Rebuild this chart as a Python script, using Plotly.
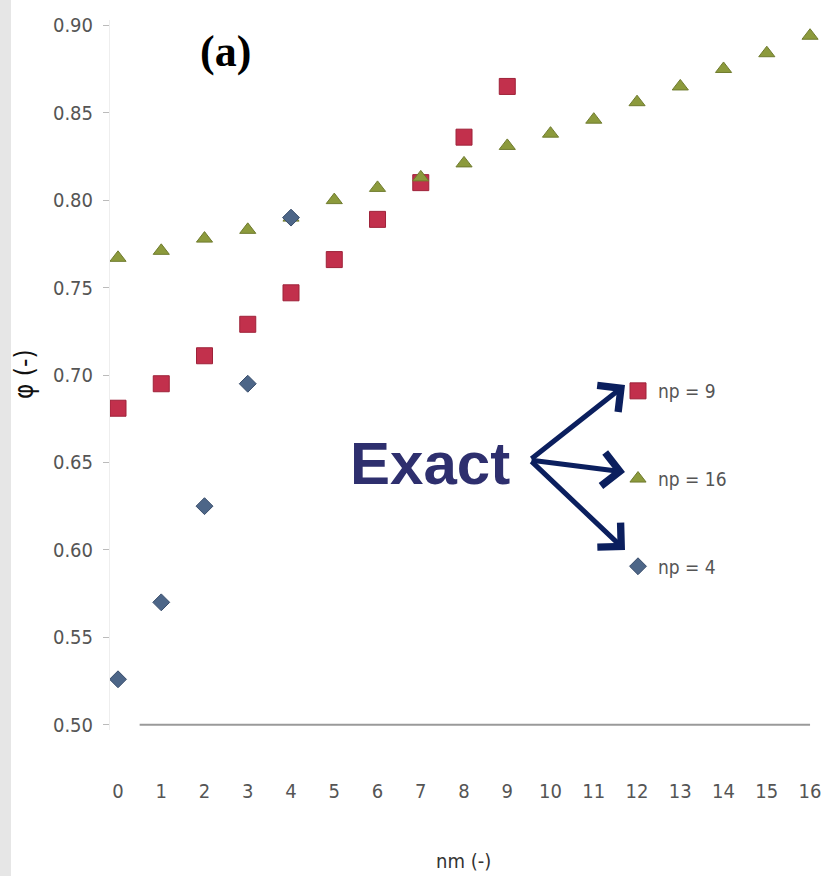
import plotly.graph_objects as go

# Data: φ versus nm for three values of np
nm_np4 = [0, 1, 2, 3, 4]
phi_np4 = [0.526, 0.570, 0.625, 0.695, 0.790]

nm_np9 = [0, 1, 2, 3, 4, 5, 6, 7, 8, 9]
phi_np9 = [0.681, 0.695, 0.711, 0.729, 0.747, 0.766, 0.789, 0.810, 0.836, 0.865]

nm_np16 = list(range(17))
phi_np16 = [0.767, 0.771, 0.778, 0.783, 0.790, 0.800, 0.807, 0.813, 0.821,
            0.831, 0.838, 0.846, 0.856, 0.865, 0.875, 0.884, 0.894]

x_ticks = list(range(17))
y_ticks = [0.50, 0.55, 0.60, 0.65, 0.70, 0.75, 0.80, 0.85, 0.90]
y_tick_text = [f"{v:.2f}" for v in y_ticks]

W, H = 825, 876
ML, MR, MT, MB = 110, 5, 20, 146
PW = W - ML - MR
PH = H - MT - MB


def px(p):
    return (p - ML) / PW


def py(q):
    return (H - MB - q) / PH


NARROW = "DejaVu Sans Condensed, Liberation Sans Narrow, Arial Narrow, sans-serif"
tick_font = dict(family=NARROW, size=20, color="#555555")

fig = go.Figure()

fig.add_trace(go.Scatter(
    x=nm_np9, y=phi_np9, mode="markers", name="np = 9", legendgroup="a",
    marker=dict(symbol="square", size=16, color="#C2304C",
                line=dict(color="#9E2239", width=1)),
))
fig.add_trace(go.Scatter(
    x=nm_np16, y=phi_np16, mode="markers", name="np = 16", legendgroup="b",
    marker=dict(symbol="triangle-up", size=14, color="#8C9A3C",
                line=dict(color="#6F7B2E", width=1)),
))
fig.add_trace(go.Scatter(
    x=nm_np4, y=phi_np4, mode="markers", name="np = 4", legendgroup="c",
    marker=dict(symbol="diamond", size=13, color="#4D6688",
                line=dict(color="#3A4E6C", width=1)),
))

# Horizontal axis line drawn along φ = 0.50
fig.add_shape(type="line", xref="x", yref="y", x0=0.5, x1=16, y0=0.5, y1=0.5,
              line=dict(color="#9A9A9A", width=2))

# Light grey strip at the left edge of the figure
fig.add_shape(type="rect", xref="paper", yref="paper",
              x0=px(0), x1=px(11), y0=py(H), y1=py(0),
              fillcolor="#E6E6E6", line=dict(width=0), layer="below")


def label(text, cx, cy, font, **kw):
    return dict(text=text, x=px(cx), y=py(cy), xref="paper", yref="paper",
                xanchor="center", yanchor="middle", showarrow=False,
                font=font, **kw)


annotations = [
    label("<b>(a)</b>", 225, 51,
          dict(family="Liberation Serif, Times New Roman, serif", size=44, color="#000000")),
    label("<b>Exact</b>", 430, 463,
          dict(family="Liberation Sans, Arial, sans-serif", size=60, color="#2E2F6E")),
    label("nm (-)", 463, 861, dict(family=NARROW, size=20, color="#333333")),
    label("φ (-)", 24, 374, dict(family=NARROW, size=26, color="#111111"), textangle=-90),
]

# Arrows from "Exact" to each legend entry
for head_y in (385, 472, 550):
    annotations.append(dict(
        x=px(625), y=py(head_y), xref="paper", yref="paper",
        ax=530 - 625, ay=460 - head_y, axref="pixel", ayref="pixel",
        text="", showarrow=True, arrowhead=4, arrowsize=1.3, arrowwidth=5,
        arrowcolor="#0B1F5E", standoff=0, startstandoff=0,
    ))

fig.update_layout(
    width=W, height=H,
    margin=dict(l=ML, r=MR, t=MT, b=MB),
    paper_bgcolor="#FFFFFF", plot_bgcolor="#FFFFFF",
    showlegend=True,
    legend=dict(x=px(618), y=py(372), xanchor="left", yanchor="top",
                bgcolor="rgba(0,0,0,0)", tracegroupgap=60, itemwidth=30,
                font=dict(family=NARROW, size=19, color="#555555")),
    annotations=annotations,
    xaxis=dict(range=[-0.185, 16.23], tickmode="array", tickvals=x_ticks,
               showgrid=False, zeroline=False, showline=False, ticks="",
               tickfont=tick_font, ticklabelstandoff=47),
    yaxis=dict(range=[0.497, 0.903], tickmode="array", tickvals=y_ticks,
               ticktext=y_tick_text, showgrid=False, zeroline=False,
               showline=True, linecolor="#EEEEEE", linewidth=1,
               ticks="outside", ticklen=6, tickcolor="#BBBBBB",
               tickfont=tick_font, ticklabelstandoff=6),
)

fig.write_html("out.html")
